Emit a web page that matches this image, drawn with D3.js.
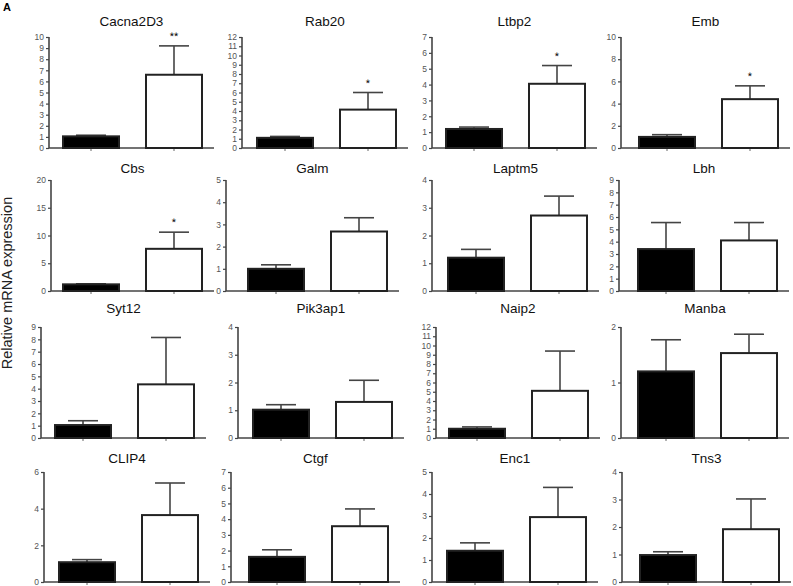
<!DOCTYPE html>
<html>
<head>
<meta charset="utf-8">
<script src="https://cdn.jsdelivr.net/npm/d3@7"></script>
<style>
  html, body { margin: 0; padding: 0; background: #fff; }
  svg { display: block; }
</style>
</head>
<body>
<svg id="chart" width="793" height="586"></svg>
<script>
// ---------- data ----------
const genes = ["Cacna2D3","Rab20","Ltbp2","Emb","Cbs","Galm","Laptm5","Lbh","Syt12","Pik3ap1","Naip2","Manba","CLIP4","Ctgf","Enc1","Tns3"];
const groups = ["control","treated"];
const yMax = [10,12,7,10,20,5,4,9,9,4,12,2,6,7,5,4];
const tickStep = [1,1,1,2,5,1,1,1,1,1,1,1,2,1,1,1];
const blackMean = [1.05,1.1,1.2,1.0,1.2,1.0,1.2,3.4,1.05,1.02,1.0,1.2,1.08,1.6,1.42,0.98];
const blackErrTop = [1.15,1.25,1.32,1.2,1.3,1.18,1.5,5.55,1.4,1.2,1.2,1.77,1.22,2.05,1.78,1.1];
const whiteMean = [6.6,4.15,4.05,4.4,7.6,2.68,2.72,4.1,4.35,1.3,5.1,1.53,3.65,3.55,2.95,1.92];
const whiteErrTop = [9.2,6.0,5.2,5.6,10.6,3.3,3.42,5.55,8.15,2.08,9.4,1.87,5.4,4.65,4.3,3.02];
const stars = ["**","*","*","*","*","","","","","","","","","","",""];
const yLabel = "Relative mRNA expression";
const panelLetter = "A";

// ---------- layout ----------
const axisX = [49,242,432,621, 51,226,432,619, 41,238,436,621, 44,231,432,622];
const barStart = [63,257,446,639, 63,248,448,638, 55,253,449,638, 59,249,447,640];
const rowTop = [37,180,327,472];
const rowBottom = [148,291,438,582];
const titleBase = [26,173,313,463];
const barW = 56, gap = 27, endPad = 12, capW = 30;

const svg = d3.select("#chart");
const font = "'Liberation Sans', Arial, sans-serif";

svg.append("text").attr("x", 3).attr("y", 11)
  .attr("font-family", font).attr("font-size", 11).attr("font-weight", "bold")
  .text(panelLetter);

svg.append("text")
  .attr("transform", "translate(12,283) rotate(-90)")
  .attr("text-anchor", "middle")
  .attr("font-family", font).attr("font-size", 14.5).attr("fill", "#222")
  .text(yLabel);

genes.forEach((g, i) => {
  const r = Math.floor(i / 4);
  const top = rowTop[r], bot = rowBottom[r];
  const stepW = barW + gap;
  const rangeStart = barStart[i] - 14;
  const rangeEnd = barStart[i] + stepW + barW + 14;
  const x = d3.scaleBand().domain(groups).range([rangeStart, rangeEnd])
    .paddingInner(gap / stepW).paddingOuter(14 / stepW);
  const y = d3.scaleLinear().domain([0, yMax[i]]).range([bot, top]);
  const xEnd = x("treated") + x.bandwidth() + endPad;

  const gp = svg.append("g");

  // y axis
  const ticks = d3.range(0, yMax[i] + 0.001, tickStep[i]);
  const yAx = gp.append("g").attr("transform", `translate(${axisX[i]},0)`)
    .call(d3.axisLeft(y).tickValues(ticks).tickSize(3).tickPadding(2).tickFormat(d3.format("d")));
  yAx.select(".domain").attr("stroke", "#444").attr("stroke-width", 1.6)
    .attr("d", `M0,${top}V${bot}`);
  yAx.selectAll(".tick line").attr("stroke", "#444").attr("stroke-width", 1.2);
  yAx.selectAll(".tick text").attr("font-family", font).attr("font-size", 8.5).attr("fill", "#555");

  // x axis line
  const xAx = gp.append("g").attr("transform", `translate(0,${bot})`)
    .call(d3.axisBottom(x).tickSize(3).tickFormat(""));
  xAx.select(".domain").attr("stroke", "#444").attr("stroke-width", 1.6)
    .attr("d", `M${axisX[i]},0H${xEnd}`);
  xAx.selectAll(".tick line").attr("stroke", "#666").attr("stroke-width", 1);

  const means = [blackMean[i], whiteMean[i]];
  const tops = [blackErrTop[i], whiteErrTop[i]];
  const fills = ["#000", "#fff"];

  groups.forEach((grp, k) => {
    const cx = x(grp) + x.bandwidth() / 2;
    // error bar
    gp.append("line").attr("x1", cx).attr("x2", cx)
      .attr("y1", y(means[k])).attr("y2", y(tops[k]))
      .attr("stroke", "#444").attr("stroke-width", 1.6);
    gp.append("line").attr("x1", cx - capW / 2).attr("x2", cx + capW / 2)
      .attr("y1", y(tops[k])).attr("y2", y(tops[k]))
      .attr("stroke", "#444").attr("stroke-width", 1.6);
    // bar
    gp.append("rect").attr("x", x(grp)).attr("width", x.bandwidth())
      .attr("y", y(means[k])).attr("height", y(0) - y(means[k]))
      .attr("fill", fills[k]).attr("stroke", "#222").attr("stroke-width", 2);
  });

  // significance
  if (stars[i]) {
    const cx = x("treated") + x.bandwidth() / 2;
    gp.append("text").attr("x", cx).attr("y", y(whiteErrTop[i]) - 6)
      .attr("text-anchor", "middle").attr("font-family", font)
      .attr("font-size", 11).attr("fill", "#000")
      .style("text-rendering", "geometricPrecision").text(stars[i]);
  }

  // title
  gp.append("text").attr("x", (axisX[i] + xEnd) / 2).attr("y", titleBase[r])
    .attr("text-anchor", "middle").attr("font-family", font)
    .attr("font-size", 13.5).attr("fill", "#111").text(g);
});
</script>
</body>
</html>
